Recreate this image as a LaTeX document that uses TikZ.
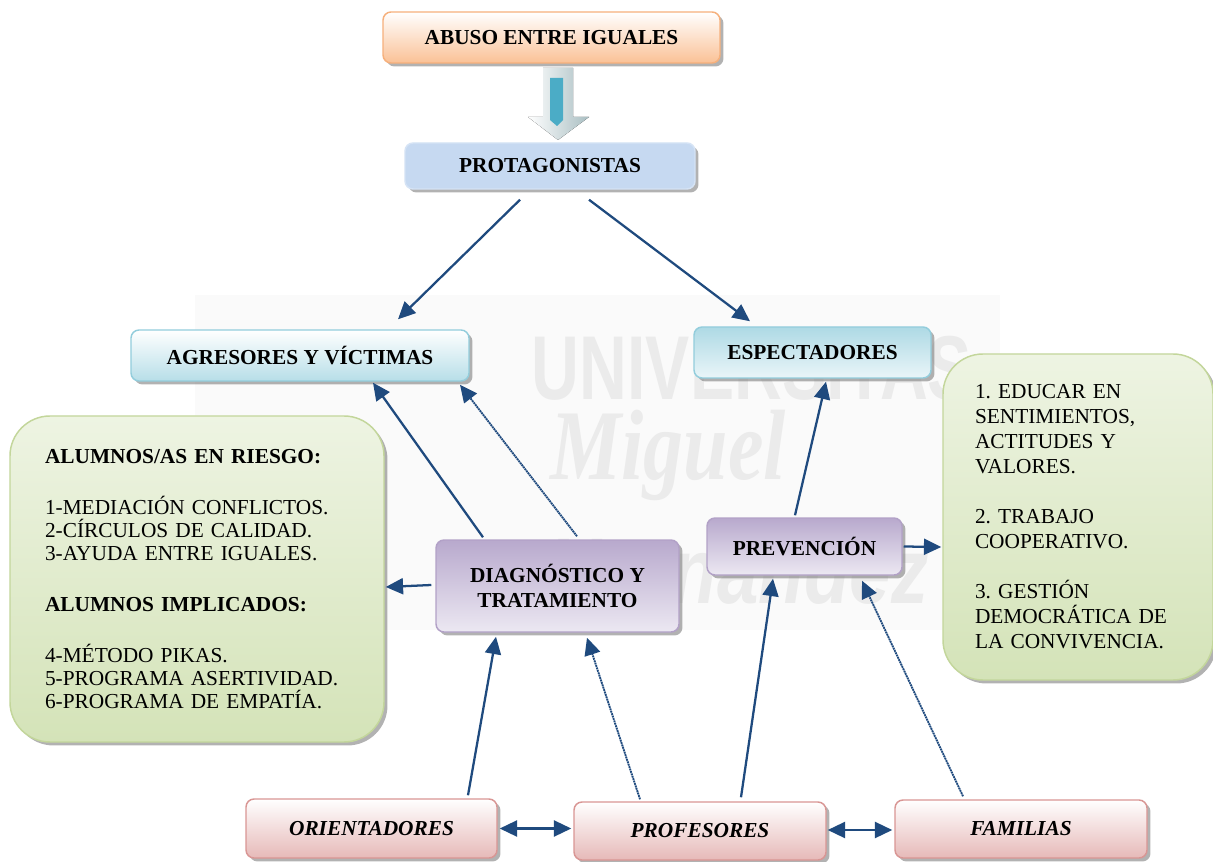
\documentclass[tikz,border=0pt]{standalone}
\usepackage{fontspec}
\setmainfont{Liberation Serif}
\newfontfamily\wmsans{Liberation Sans}
\usetikzlibrary{arrows.meta,shadows,calc}

\definecolor{navy}{HTML}{1F4A7E}
\definecolor{peachB}{HTML}{FAC196}
\definecolor{peachD}{HTML}{F6B07C}
\definecolor{protF}{HTML}{C6D9F1}
\definecolor{protD}{HTML}{D5E3F5}
\definecolor{cyanB}{HTML}{B7DEE8}
\definecolor{cyanD}{HTML}{93CDDC}
\definecolor{greenB}{HTML}{D4E3B8}
\definecolor{greenD}{HTML}{C3D69B}
\definecolor{lilacT}{HTML}{B8A9CD}
\definecolor{lilacB}{HTML}{ECE8F2}
\definecolor{lilacD}{HTML}{B2A1C7}
\definecolor{roseB}{HTML}{E6B9B8}
\definecolor{roseD}{HTML}{D99694}
\definecolor{tealA}{HTML}{4BACC6}
\definecolor{arrowR}{HTML}{A9BEC2}

\tikzset{
  txt/.style={font=\fontsize{16}{17.25}\selectfont},
  box/.style={txt, rounded corners=6pt, line width=1.1pt, align=center,
    drop shadow={shadow xshift=2.6pt, shadow yshift=-2.6pt, fill=black!55, opacity=0.55}},
  peachbox/.style={box, draw=peachD, top color=white, bottom color=peachB, font=\fontsize{16}{17.25}\selectfont\bfseries},
  protbox/.style={box, draw=protD, fill=protF, font=\fontsize{16}{17.25}\selectfont\bfseries},
  cyanbox/.style={box, draw=cyanD, top color=white, bottom color=cyanB, font=\fontsize{16}{17.25}\selectfont\bfseries},
  greenbox/.style={box, rounded corners=30pt, draw=greenD, top color=white!60!greenB, bottom color=greenB, align=left, inner ysep=4pt},
  lilacbox/.style={box, draw=lilacD, top color=lilacT, bottom color=lilacB, font=\fontsize{16}{19}\selectfont\bfseries},
  rosebox/.style={box, draw=roseD, top color=white, bottom color=roseB, font=\fontsize{16}{17.25}\selectfont\bfseries\itshape},
  tip/.tip={Triangle[length=13pt,width=12pt]},
  conn/.style={draw=navy, line width=1.7pt, -tip},
  dconn/.style={draw=navy, line width=1.4pt, dash pattern=on 1.4pt off 0.5pt, -tip},
  biconn/.style={draw=navy, line width=1.7pt, tip-tip},
  wmark/.style={text=black!8, inner sep=0pt}
}

\begin{document}
\frenchspacing
\begin{tikzpicture}[x=0.75pt, y=-0.75pt]
\useasboundingbox (0,0) rectangle (1213,862);
\fill[white] (0,0) rectangle (1213,862);

% faint university watermark behind the diagram
\fill[black!2] (195,295) rectangle (1000,630);
\node[wmark, font=\wmsans\bfseries\fontsize{68}{68}\selectfont, xscale=0.73] (wm1) at (752,368) {UNIVERSITAS};
\node[wmark, font=\fontsize{75}{75}\selectfont\bfseries\itshape, xscale=0.8] (wm2) at (668,455) {Miguel};
\node[wmark, font=\wmsans\bfseries\itshape\fontsize{70}{70}\selectfont, xscale=0.8] (wm3) at (738,570) {Hernández};

% block arrow between the two top boxes
\fill[left color=white, right color=arrowR] (543,68) -- (573,68) -- (573,117) -- (589,117) -- (558,140) -- (528,117) -- (543,117) -- cycle;
\fill[tealA] (550,78) -- (563,78) -- (563,120) -- (557,126) -- (550,120) -- cycle;

% boxes
\node[peachbox, minimum width=252.75pt, minimum height=38.25pt] (abuso) at (551.5,37.5) {ABUSO ENTRE IGUALES};
\node[protbox, minimum width=217.5pt, minimum height=34.5pt] (prot) at (550,166) {PROTAGONISTAS};
\node[cyanbox, minimum width=253.5pt, minimum height=38.25pt] (agre) at (300,355.5) {AGRESORES Y VÍCTIMAS};
\node[cyanbox, top color=cyanD!75, bottom color=white!70!cyanB, minimum width=177.75pt, minimum height=38.25pt] (espe) at (812.5,352.5) {ESPECTADORES};

\node[greenbox, txt, inner xsep=26.25pt, text width=228pt, minimum width=280.5pt, minimum height=244.5pt] (lbox) at (197,579) {%
  \textbf{ALUMNOS/AS EN RIESGO:}\\[21pt]
  1-MEDIACIÓN CONFLICTOS.\\
  2-CÍRCULOS DE CALIDAD.\\
  3-AYUDA ENTRE IGUALES.\\[21pt]
  \textbf{ALUMNOS IMPLICADOS:}\\[21pt]
  4-MÉTODO PIKAS.\\
  5-PROGRAMA ASERTIVIDAD.\\
  6-PROGRAMA DE EMPATÍA.};

\node[greenbox, font=\fontsize{16}{18.75}\selectfont, inner xsep=24pt, text width=154.5pt, minimum width=202.5pt, minimum height=244.5pt] (rbox) at (1078,517) {%
  1. EDUCAR EN\\
  SENTIMIENTOS,\\
  ACTITUDES Y\\
  VALORES.\\[18.75pt]
  2. TRABAJO\\
  COOPERATIVO.\\[18.75pt]
  3. GESTIÓN\\
  DEMOCRÁTICA DE\\
  LA CONVIVENCIA.};

\node[lilacbox, minimum width=182.25pt, minimum height=69pt] (diag) at (557.5,586) {DIAGNÓSTICO Y\\TRATAMIENTO};
\node[lilacbox, minimum width=146.25pt, minimum height=42.75pt] (prev) at (804.5,546.5) {PREVENCIÓN};

\node[rosebox, minimum width=188.25pt, minimum height=44.25pt] (orie) at (371.5,828.5) {ORIENTADORES};
\node[rosebox, minimum width=189pt, minimum height=43.5pt] (prof) at (700,831) {PROFESORES};
\node[rosebox, minimum width=189pt, minimum height=43.5pt] (fami) at (1021,829) {FAMILIAS};

% connectors
\draw[conn] ($(prot.south)+(-30,10)$) -- ($(agre.north)+(98,-10)$);
\draw[conn] ($(prot.south)+(39,10)$) -- ($(espe.north)+(-62.5,-5)$);
\draw[conn] ($(diag.north)+(-74.5,-2)$) -- ($(agre.south)+(73,1)$);
\draw[dconn] ($(diag.north)+(19.5,-3)$) -- ($(agre.south)+(160,3)$);
\draw[conn] ($(prev.north)+(-9.5,-2)$) -- ($(espe.south)+(13.5,3)$);
\draw[conn] ($(diag.west)+(-4,-1)$) -- ($(lbox.east)+(1,8)$);
\draw[conn] ($(prev.east)+(1,0)$) -- ($(rbox.west)+(-1,30)$);
\draw[conn] ($(orie.north)+(96.5,-3)$) -- ($(diag.south)+(-61.5,4)$);
\draw[dconn] ($(prof.north)+(-60,-2)$) -- ($(diag.south)+(29.5,5)$);
\draw[conn] ($(prof.north)+(41,-4)$) -- ($(prev.south)+(-31.5,3)$);
\draw[dconn] ($(fami.north)+(-58,-3)$) -- ($(prev.south)+(57.5,5)$);
\draw[biconn] ($(orie.east)+(2,0)$) -- ($(orie.east -| prof.west)+(-2,0)$);
\draw[biconn] ($(prof.east)+(1,-1)$) -- ($(prof.east -| fami.west)+(-2,-1)$);
\end{tikzpicture}
\end{document}
